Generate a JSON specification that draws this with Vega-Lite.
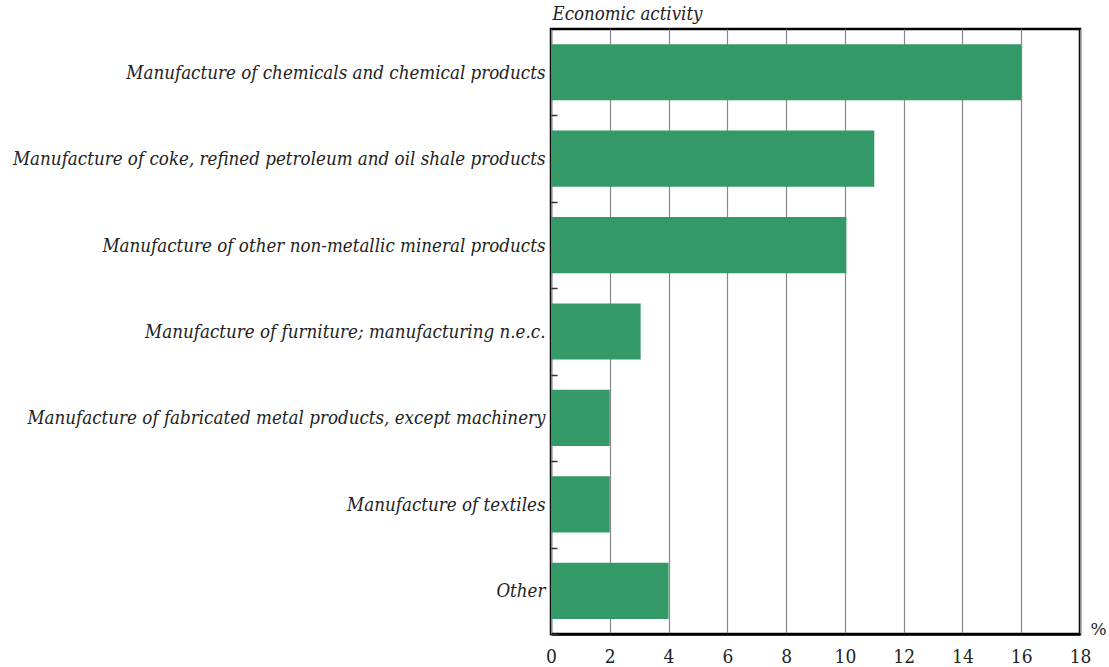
{
  "$schema": "https://vega.github.io/schema/vega-lite/v6.json",
  "autosize": {"type": "none"},
  "width": 529,
  "height": 605,
  "padding": {"left": 551, "top": 29, "right": 29, "bottom": 33},
  "background": "white",
  "config": {
    "view": {"stroke": "black", "strokeWidth": 2.5}
  },
  "data": {
    "values": [
      {"activity": "Manufacture of chemicals and chemical products", "pct": 16},
      {"activity": "Manufacture of coke, refined petroleum and oil shale products", "pct": 11},
      {"activity": "Manufacture of other non-metallic mineral products", "pct": 10.05},
      {"activity": "Manufacture of furniture; manufacturing n.e.c.", "pct": 3.05},
      {"activity": "Manufacture of fabricated metal products, except machinery", "pct": 2},
      {"activity": "Manufacture of textiles", "pct": 2},
      {"activity": "Other", "pct": 4}
    ]
  },
  "mark": {"type": "bar", "color": "#339966"},
  "encoding": {
    "y": {
      "field": "activity",
      "type": "nominal",
      "sort": null,
      "scale": {"paddingInner": 0.35, "paddingOuter": 0.175},
      "axis": {
        "title": "Economic activity",
        "titleAngle": 0,
        "titleAlign": "left",
        "titleBaseline": "bottom",
        "titleX": -5,
        "titleY": -6,
        "titleFont": "DejaVu Serif Condensed",
        "titleFontStyle": "italic",
        "titleFontWeight": "normal",
        "titleFontSize": 18.5,
        "titleColor": "#222",
        "labelFont": "DejaVu Serif Condensed",
        "labelFontStyle": "italic",
        "labelFontSize": 18.6,
        "labelColor": "#222",
        "labelPadding": 6,
        "labelLimit": 700,
        "labelOffset": -43.2,
        "offset": -6,
        "domain": false,
        "ticks": true,
        "tickOffset": 43.2,
        "tickSize": 6,
        "tickColor": "#333",
        "tickWidth": 1.5
      }
    },
    "x": {
      "field": "pct",
      "type": "quantitative",
      "scale": {"domain": [0, 18], "nice": false},
      "axis": {
        "values": [0, 2, 4, 6, 8, 10, 12, 14, 16, 18],
        "title": "%",
        "titleAngle": 0,
        "titleAlign": "left",
        "titleBaseline": "alphabetic",
        "titleX": 539,
        "titleY": 0,
        "titleFont": "DejaVu Serif",
        "titleFontWeight": "normal",
        "titleFontSize": 17,
        "titleColor": "#222",
        "labelFont": "DejaVu Serif Condensed",
        "labelFontSize": 19,
        "labelColor": "#222",
        "labelPadding": 13,
        "labelFlush": false,
        "grid": true,
        "gridColor": "#888",
        "gridWidth": 1.2,
        "domainColor": "black",
        "domainWidth": 2.5,
        "ticks": false
      }
    }
  }
}
